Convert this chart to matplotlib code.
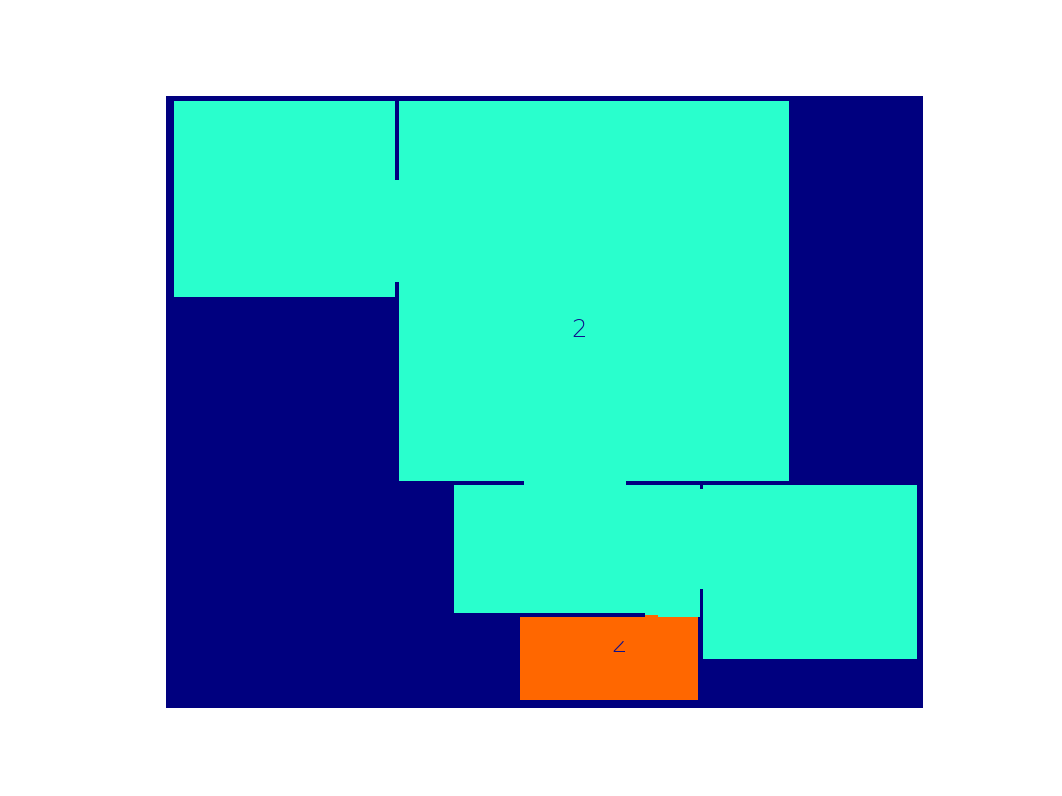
import numpy as np
import matplotlib
matplotlib.use("Agg")
import matplotlib.pyplot as plt
from matplotlib.patches import Rectangle

# Label image description (grid of 324 rows x 400 cols), value per rectangle
n_rows, n_cols = 324, 400
region_values = [2, 2, 2, 2, 2, 2, 2, 2, 4, 4]
row_start = [3, 45, 3, 206, 204, 206, 208, 274, 276, 275]
row_end = [107, 99, 204, 274, 206, 298, 261, 276, 320, 276]
col_start = [4, 121, 123, 152, 189, 284, 282, 253, 187, 253]
col_end = [121, 123, 329, 282, 243, 397, 284, 282, 281, 260]

label_texts = ["2", "2"]
label_x = [218.1, 238.8]
label_y = [123.3, 289.8]
label_clip_top = [None, 287.9]

vmin, vmax = 0, 5

img = np.zeros((n_rows, n_cols))
for v, r0, r1, c0, c1 in zip(region_values, row_start, row_end, col_start, col_end):
    img[r0:r1, c0:c1] = v

fig = plt.figure(figsize=(1062 / 166, 796 / 166), dpi=166)
ax = fig.add_subplot(111)
ax.imshow(img, cmap="jet", vmin=vmin, vmax=vmax, interpolation="nearest")
for t, x, y, ct in zip(label_texts, label_x, label_y, label_clip_top):
    txt = ax.text(x, y, t, ha="center", va="center", fontsize=10.5,
                  color="#10108c", fontfamily="DejaVu Sans", fontweight="light")
    if ct is not None:
        clip = Rectangle((x - 20, ct), 40, 40, transform=ax.transData)
        txt.set_clip_on(True)
        txt.set_clip_path(clip)
ax.axis("off")
fig.savefig("out.png", dpi=166)
